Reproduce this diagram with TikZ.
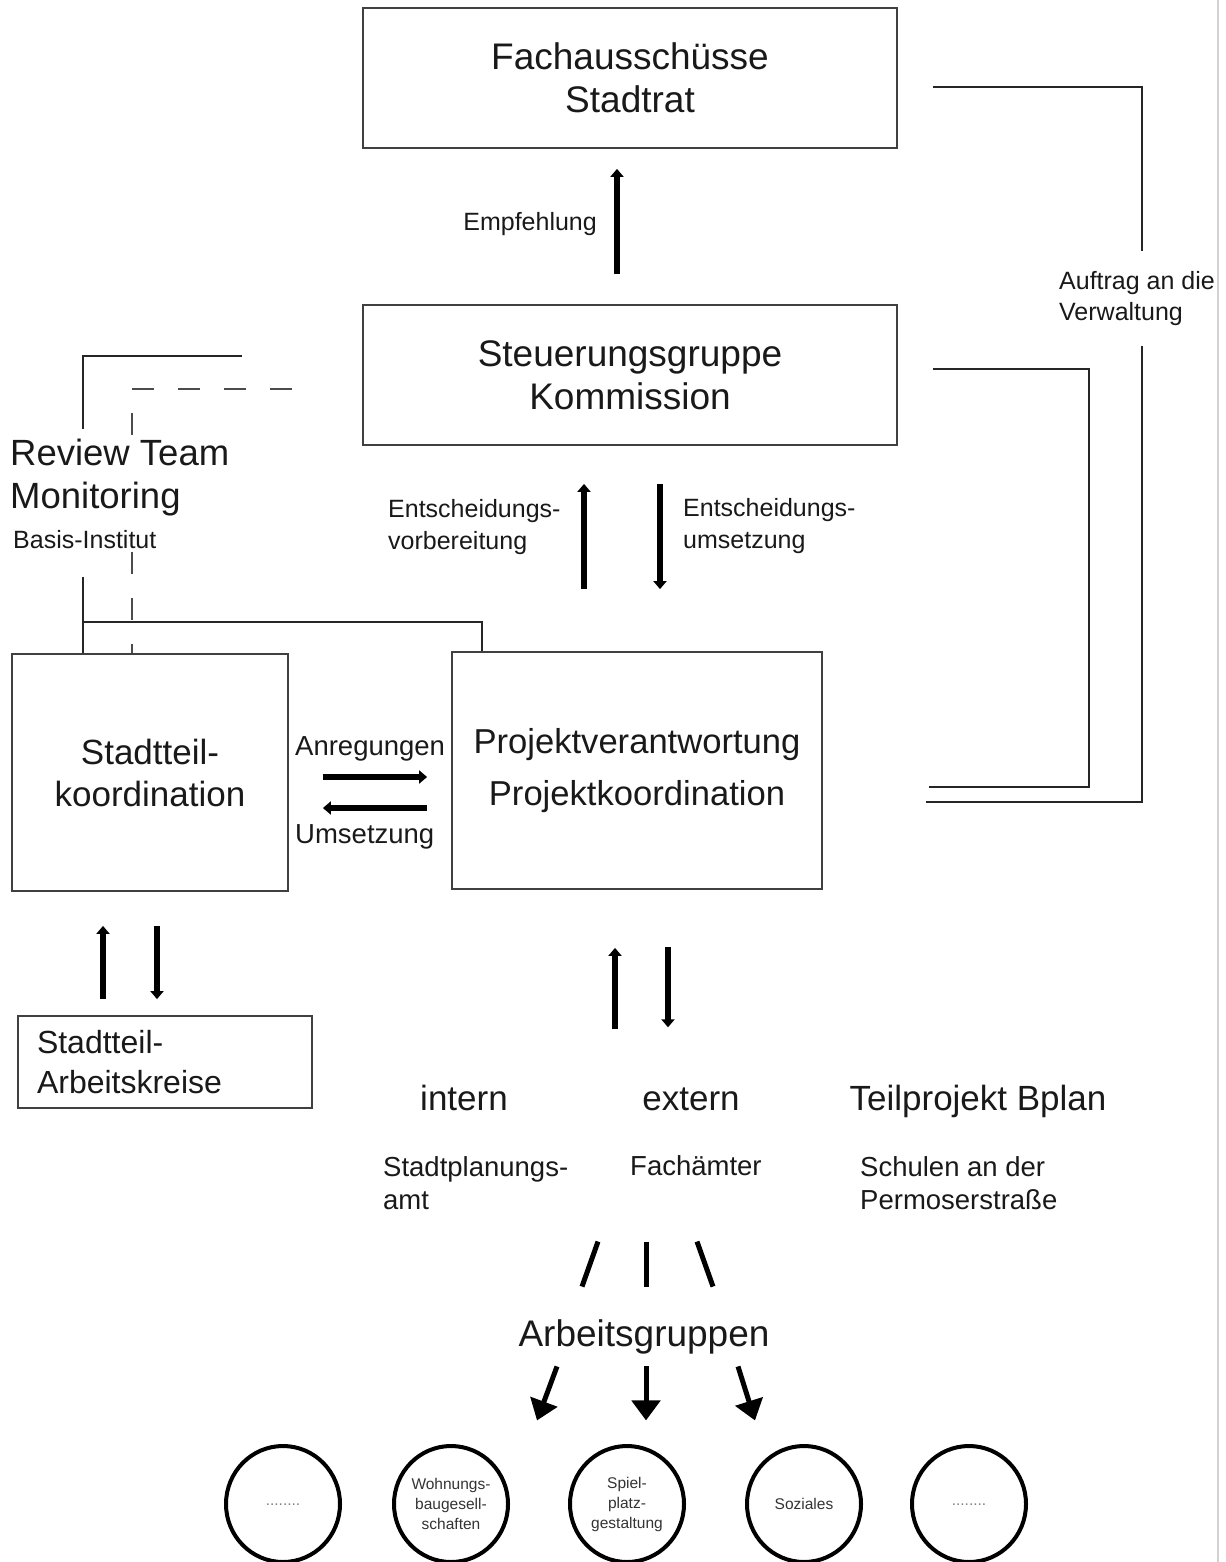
\documentclass[tikz,border=0pt]{standalone}
\usepackage{fontspec}
\setmainfont{Liberation Sans}
\usetikzlibrary{arrows.meta,shapes.geometric}

\begin{document}
\begin{tikzpicture}[x=1pt,y=1pt,
    box/.style={draw=black!75,line width=1.8pt,inner sep=0pt,align=center,text=black!90},
    wire/.style={black!85,line width=1.8pt},
    loosedash/.style={black!70,dash pattern=on 22pt off 24pt},
    flow/.style={line width=6.5pt,-{Triangle[length=8pt,width=13pt]}},
    fan/.style={line width=5pt,-{Triangle[length=20pt,width=28pt]}},
    slash/.style={line width=5pt},
    note/.style={inner sep=0pt,align=left,text=black!90,font=\fontsize{25}{31.5}\selectfont},
    mid/.style={note,font=\fontsize{27.5}{33}\selectfont},
    grp/.style={ellipse,draw,line width=4pt,minimum width=114pt,minimum height=116pt,
        inner sep=0pt,align=center,text=black!80,font=\fontsize{15.5}{20}\selectfont}]
    \useasboundingbox (0,0) rectangle (1225,-1562);
    \draw[gray!35,line width=2.5pt] (1218,0) -- (1218,-1562);

    %% boards
    \node[box,minimum width=534pt,minimum height=140pt,font=\fontsize{37}{43}\selectfont]
        (fach) at (630,-78) {Fachausschüsse\\Stadtrat};
    \node[box,minimum width=534pt,minimum height=140pt,font=\fontsize{37}{43}\selectfont]
        (steuer) at (630,-375) {Steuerungsgruppe\\Kommission};
    \node[box,minimum width=276pt,minimum height=237pt,font=\fontsize{35}{42}\selectfont]
        (stk) at (150,-772.5) {Stadtteil-\\koordination};
    \node[box,minimum width=370pt,minimum height=237pt,font=\fontsize{34.6}{52}\selectfont]
        (proj) at (637,-770.5) {Projektverantwortung\\Projektkoordination};
    \node[box,minimum width=294pt,minimum height=92pt,text width=256pt,align=left,inner xsep=19pt,
        font=\fontsize{32}{40}\selectfont] (ak) at (165,-1062) {Stadtteil-\\Arbeitskreise};

    %% labels
    \node[note,anchor=west,font=\fontsize{36.5}{43}\selectfont] (review) at (10,-478) {Review Team\\Monitoring};
    \node[note,anchor=west] (basis) at (13,-540) {Basis-Institut};
    \node[note,anchor=east] (empf) at (597,-224) {Empfehlung};
    \node[note,minimum height=95pt] (auftrag) at (1137,-298.5) {Auftrag an die\\Verwaltung};
    \node[note,anchor=west] (vorb) at (388,-527) {Entscheidungs-\\vorbereitung};
    \node[note,anchor=west] (umset) at (683,-526) {Entscheidungs-\\umsetzung};
    \node[mid,anchor=west] (anreg) at (295,-749) {Anregungen};
    \node[mid,anchor=west] (umsetz) at (295,-837) {Umsetzung};

    %% lower row
    \node[note,font=\fontsize{35}{42}\selectfont] (intern) at (464,-1098) {intern};
    \node[note,font=\fontsize{35}{42}\selectfont] (extern) at (691,-1099) {extern};
    \node[note,font=\fontsize{35}{42}\selectfont] (bplan) at (978,-1101) {Teilprojekt Bplan};
    \node[mid,anchor=west] (stpl) at (383,-1183) {Stadtplanungs-\\amt};
    \node[mid,anchor=west] (faemter) at (630,-1166) {Fachämter};
    \node[mid,anchor=west] (schulen) at (860,-1183) {Schulen an der\\Permoserstraße};
    \node[note,font=\fontsize{37}{44}\selectfont] (ag) at (644,-1337) {Arbeitsgruppen};

    %% working groups
    \foreach \x/\txt [count=\i] in {283/{\textcolor{gray}{\raisebox{-3pt}{........}}},
        451/{Wohnungs-\\baugesell-\\schaften}, 627/{Spiel-\\platz-\\gestaltung},
        804/Soziales, 969/{\textcolor{gray}{\raisebox{-3pt}{........}}}}
        \node[grp] (grp\i) at (\x,-1504) {\txt};

    %% arrows
    \draw[flow,shorten <=30pt,shorten >=20pt] ([xshift=-13pt]steuer.north) -- ([xshift=-13pt]fach.south);
    \draw[flow,shorten <=62pt,shorten >=38pt] ([xshift=-46pt]steuer.south |- proj.north) -- ([xshift=-46pt]steuer.south);
    \draw[flow,shorten <=38pt,shorten >=62pt] ([xshift=30pt]steuer.south) -- ([xshift=30pt]steuer.south |- proj.north);
    \draw[flow,shorten <=34pt,shorten >=24pt] ([yshift=-4.5pt]stk.east) -- ([yshift=-4.5pt]stk.east -| proj.west);
    \draw[flow,shorten <=24pt,shorten >=34pt] ([yshift=-35.5pt]stk.east -| proj.west) -- ([yshift=-35.5pt]stk.east);
    \draw[flow,shorten <=16pt,shorten >=34pt] ([xshift=-47pt]stk.south |- ak.north) -- ([xshift=-47pt]stk.south);
    \draw[flow,shorten <=34pt,shorten >=16pt] ([xshift=7pt]stk.south) -- ([xshift=7pt]stk.south |- ak.north);
    \draw[flow,shorten <=58pt,shorten >=58pt] ([xshift=-22pt]proj.south |- extern.north) -- ([xshift=-22pt]proj.south);
    \draw[flow,shorten <=57pt,shorten >=60pt] ([xshift=31pt]proj.south) -- ([xshift=31pt]proj.south |- extern.north);

    %% towards Arbeitsgruppen
    \foreach \xa/\xb in {-46/-62,2/2,53/69}
        \draw[slash] ([shift={(\xa,78)}]ag.north) -- ([shift={(\xb,33)}]ag.north);
    \foreach \xa/\xb in {-87/-107,2/2,94/111}
        \draw[fan] ([shift={(\xa,-12)}]ag.south) -- ([shift={(\xb,-66)}]ag.south);

    %% right hand lines
    \draw[wire] ([shift={(35,-9)}]fach.east) -| ([xshift=5pt]auftrag.north);
    \draw[wire] ([xshift=5pt]auftrag.south) |- ([shift={(103,-31.5)}]proj.east);
    \draw[wire] ([shift={(35,6)}]steuer.east) -- ([shift={(191,6)}]steuer.east)
        |- ([shift={(106,-16.5)}]proj.east);

    %% left hand lines
    \draw[wire] ([shift={(-120,19)}]steuer.west) -| ([shift={(-67,224)}]stk.north);
    \draw[wire] ([shift={(-67,76)}]stk.north) -- ([xshift=-67pt]stk.north);
    \draw[wire] ([shift={(-67,31)}]stk.north) -| ([xshift=31pt]proj.north west);
    \draw[wire,loosedash] ([shift={(-70,-14)}]steuer.west) -| ([shift={(-18,217)}]stk.north);
    \draw[wire,loosedash] ([shift={(-18,101)}]stk.north) -- ([xshift=-18pt]stk.north);
\end{tikzpicture}
\end{document}
